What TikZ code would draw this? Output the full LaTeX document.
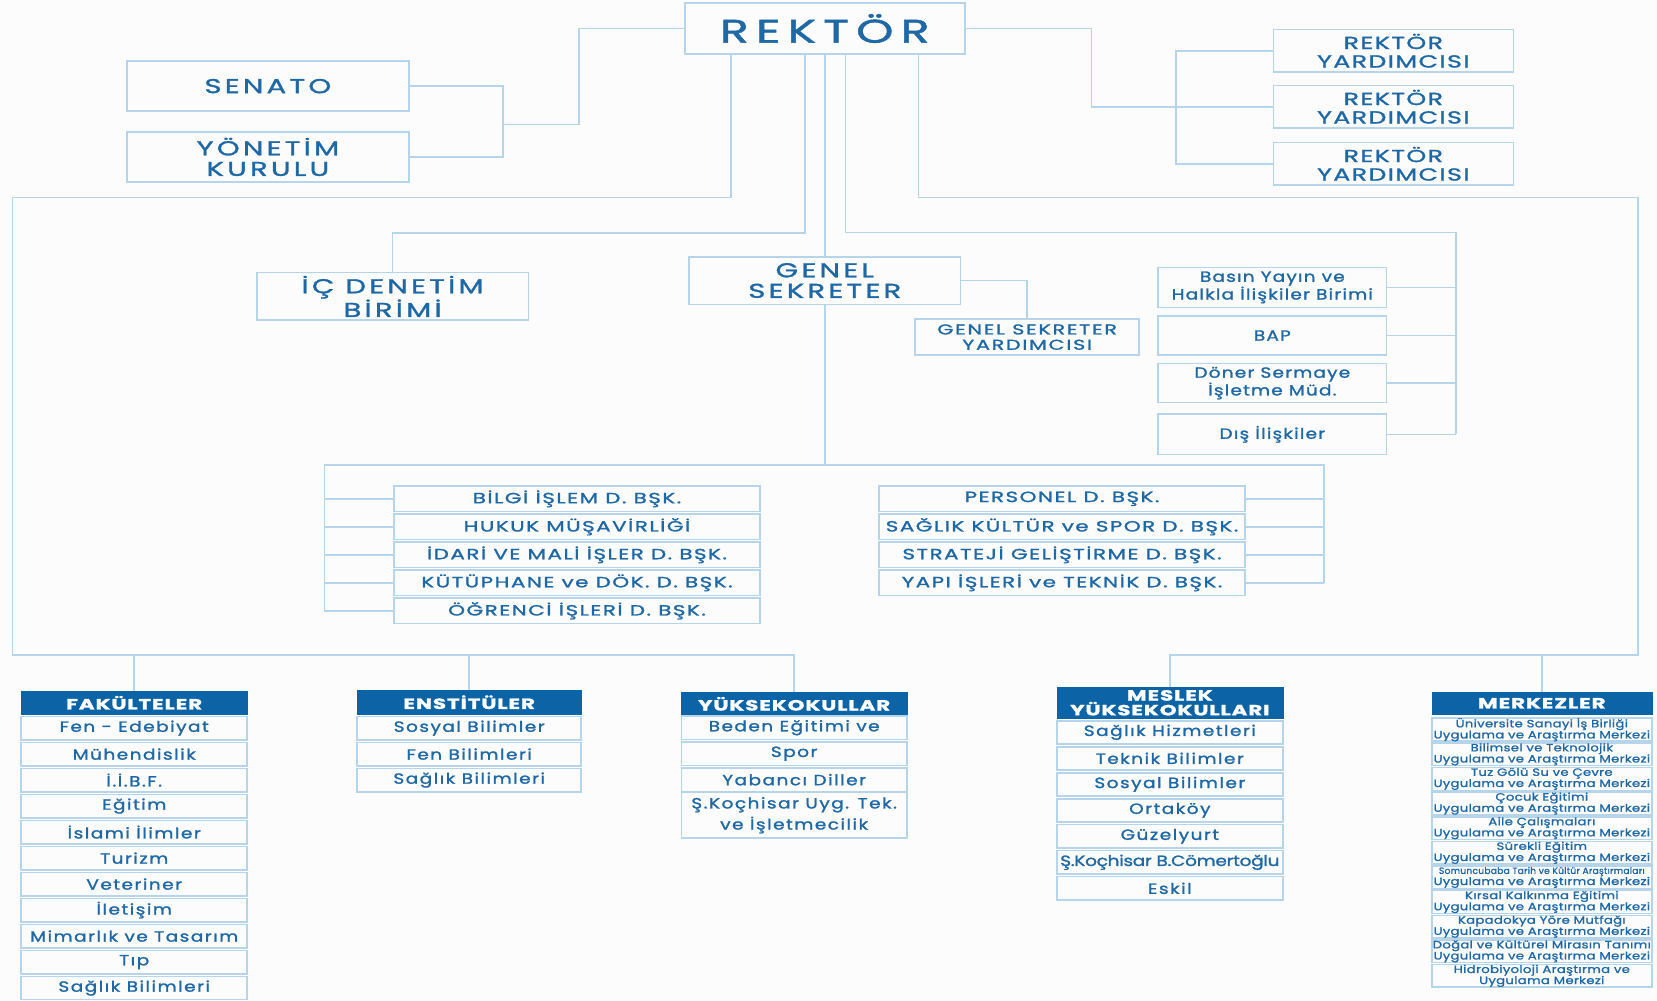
\documentclass[tikz,border=0pt]{standalone}
\usepackage{fontspec}
\setmainfont{Poppins}[FakeStretch=1.25, FakeBold=1.5]
\definecolor{bg}{HTML}{FDFCFC}
\definecolor{lineblue}{HTML}{B7D5EA}
\definecolor{txtblue}{HTML}{1F68A6}
\definecolor{headblue}{HTML}{0C63A6}
\tikzset{
  wh/.style 2 args={minimum width=#1pt, minimum height=#2pt},
  box/.style={draw=lineblue, line width=1.5pt, text=txtblue, align=center, inner sep=0pt},
  head/.style={fill=headblue, draw=headblue, text=white, align=center, inner sep=0pt,
    font=\bfseries\fontsize{14}{14}\selectfont\addfontfeatures{FakeStretch=1.45,LetterSpace=6}},
  conn/.style={draw=lineblue, line width=1.5pt},
  fr/.style={font=\fontsize{31}{34}\selectfont\addfontfeatures{FakeStretch=1.45,LetterSpace=22}},
  f18/.style={font=\fontsize{19}{19.5}\selectfont\addfontfeatures{FakeStretch=1.45,LetterSpace=16}},
  f15/.style={font=\fontsize{16.5}{17.5}\selectfont\addfontfeatures{FakeStretch=1.45,LetterSpace=8}},
  fgsy/.style={font=\fontsize{13.5}{14.5}\selectfont\addfontfeatures{FakeStretch=1.45,LetterSpace=12}},
  fd/.style={font=\fontsize{14}{15}\selectfont\addfontfeatures{FakeStretch=1.45,LetterSpace=10}},
  f13/.style={font=\fontsize{14}{15}\selectfont\addfontfeatures{LetterSpace=8}},
  fi/.style={font=\fontsize{14}{15}\selectfont\addfontfeatures{LetterSpace=10}},
  fi2/.style={font=\fontsize{14}{20}\selectfont\addfontfeatures{LetterSpace=10}},
  fm/.style={font=\fontsize{10}{10.5}\selectfont\addfontfeatures{LetterSpace=3}},
}
\begin{document}
\begin{tikzpicture}[x=1pt,y=-1pt]
\useasboundingbox[fill=bg] (0,0) rectangle (1568,947);

% top level
\node[box, wh={265}{48}, fr] (rektor) at (780.5,27) {REKTÖR};
\node[box, wh={267}{47}, f18] (senato) at (253.5,81.5) {SENATO};
\node[box, wh={267}{47}, f18] (yonetim) at (253.5,148.5) {YÖNETİM\\KURULU};
\foreach \y [count=\i] in {48,101,155}
  \node[box, wh={227}{40}, f15] (ry\i) at (1318.5,\y) {REKTÖR\\YARDIMCISI};

% second level
\node[box, wh={257}{45}, f18] (icd) at (371.5,280.5) {İÇ DENETİM\\BİRİMİ};
\node[box, wh={257}{45}, f18] (gs) at (780.5,265.5) {GENEL\\SEKRETER};
\node[box, wh={212}{34}, fgsy] (gsy) at (972,319) {GENEL SEKRETER\\YARDIMCISI};
\node[box, wh={216}{38}, f13] (basin) at (1204,272) {Basın Yayın ve\\Halkla İlişkiler Birimi};
\node[box, wh={216}{37}, f13] (bap) at (1204,317.5) {BAP};
\node[box, wh={216}{37}, f13] (doner) at (1204,362.5) {Döner Sermaye\\İşletme Müd.};
\node[box, wh={216}{38}, f13] (dis) at (1204,411) {Dış İlişkiler};

% daire baskanliklari
\foreach \t [count=\i] in {BİLGİ İŞLEM D. BŞK., HUKUK MÜŞAVİRLİĞİ, İDARİ VE MALİ İŞLER D. BŞK.,
    KÜTÜPHANE ve DÖK. D. BŞK., ÖĞRENCİ İŞLERİ D. BŞK.}
  \node[box, wh={346}{24}, fd] (l\i) at (546,445.5+26.5*\i) {\t};
\foreach \t [count=\i] in {PERSONEL D. BŞK., SAĞLIK KÜLTÜR ve SPOR D. BŞK.,
    STRATEJİ GELİŞTİRME D. BŞK., YAPI İŞLERİ ve TEKNİK D. BŞK.}
  \node[box, wh={346}{24}, fd] (r\i) at (1005,445.5+26.5*\i) {\t};

% units
\node[head, wh={214}{22}] (fak) at (127,665) {FAKÜLTELER};
\foreach \t [count=\i] in {Fen - Edebiyat, Mühendislik, İ.İ.B.F., Eğitim, İslami İlimler, Turizm,
    Veteriner, İletişim, Mimarlık ve Tasarım, Tıp, Sağlık Bilimleri}
  \node[box, wh={214}{22}, fi] (fak\i) at (127,664.4+24.6*\i) {\t};

\node[head, wh={212}{22}] (ens) at (444,664.5) {ENSTİTÜLER};
\foreach \t [count=\i] in {Sosyal Bilimler, Fen Bilimleri, Sağlık Bilimleri}
  \node[box, wh={212}{22}, fi] (ens\i) at (444,664.4+24.6*\i) {\t};

\node[head, wh={213}{22}] (yuk) at (751.5,666) {YÜKSEKOKULLAR};
\foreach \t [count=\i] in {Beden Eğitimi ve, Spor, Yabancı Diller}
  \node[box, wh={213}{22}, fi] (yuk\i) at (751.5,664+24.6*\i) {\t};
\node[box, wh={213}{43}, fi2] (yuk4) at (751.5,771.5) {Ş.Koçhisar Uyg. Tek.\\ve İşletmecilik};

\node[head, wh={214}{30}] (mes) at (1107,665) {MESLEK\\YÜKSEKOKULLARI};
\foreach \t [count=\i] in {Sağlık Hizmetleri, Teknik Bilimler, Sosyal Bilimler, Ortaköy, Güzelyurt,
    {\addfontfeatures{LetterSpace=-2}Ş.Koçhisar B.Cömertoğlu}, Eskil}
  \node[box, wh={214}{22}, fi] (mes\i) at (1107,668.4+24.6*\i) {\t};

\node[head, wh={208}{21}] (mer) at (1459,665.5) {MERKEZLER};
\foreach \t [count=\i] in {{Üniversite Sanayi İş Birliği\\Uygulama ve Araştırma Merkezi},
    {Bilimsel ve Teknolojik\\Uygulama ve Araştırma Merkezi},
    {Tuz Gölü Su ve Çevre\\Uygulama ve Araştırma Merkezi},
    {Çocuk Eğitimi\\Uygulama ve Araştırma Merkezi},
    {Aile Çalışmaları\\Uygulama ve Araştırma Merkezi},
    {Sürekli Eğitim\\Uygulama ve Araştırma Merkezi},
    {\fontsize{8.6}{9.8}\selectfont\addfontfeatures{FakeStretch=1.0,LetterSpace=3}Somuncubaba Tarih ve Kültür Araştırmaları\\Uygulama ve Araştırma Merkezi},
    {Kırsal Kalkınma Eğitimi\\Uygulama ve Araştırma Merkezi},
    {Kapadokya Yöre Mutfağı\\Uygulama ve Araştırma Merkezi},
    {Doğal ve Kültürel Mirasın Tanımı\\Uygulama ve Araştırma Merkezi},
    {Hidrobiyoloji Araştırma ve\\Uygulama Merkezi}}
  \node[box, wh={208}{21.5}, fm] (mer\i) at (1459,667.2+23.3*\i) {\t};

% connectors
\coordinate (sj) at (476,118);
\draw[conn] (senato.east) -| (sj) |- (yonetim.east);
\draw[conn] (sj) -- ++(72,0) |- (rektor.west);
\coordinate (ryj) at (1113,101);
\draw[conn] (rektor.east) -- ++(119,0) |- (ryj);
\foreach \i in {1,2,3} \draw[conn] (ryj) |- (ry\i.west);

\draw[conn] ([xshift=-88.5pt]rektor.south) |- (12,187) -- (12,620) -| (yuk.north);
\draw[conn] ([xshift=88.5pt]rektor.south) |- (1550,187) -- (1550,620) -| (mes.north);
\foreach \n in {fak,ens,mer} \draw[conn] (\n.north) -- (\n.north |- 0,620);

\draw[conn] ([xshift=-18.5pt]rektor.south) -- ++(0,169) -| (icd.north);
\draw[conn] (rektor.south) -- (gs.north);
\coordinate (rtop) at (1378,220);
\draw[conn] ([xshift=19.5pt]rektor.south) |- (rtop) -- (rtop |- dis.east);
\foreach \n in {basin,bap,doner,dis} \draw[conn] (\n.east) -- (\n.east -| rtop);
\draw[conn] (gs.east) -| (gsy.north);

\coordinate (dl) at (307,440);
\coordinate (dr) at (1253,440);
\draw[conn] (gs.south) -- (gs.south |- dl);
\draw[conn] (dl |- l5.west) -- (dl) -- (dr) -- (dr |- r4.east);
\foreach \i in {1,...,5} \draw[conn] (l\i.west) -- (l\i.west -| dl);
\foreach \i in {1,...,4} \draw[conn] (r\i.east) -- (r\i.east -| dr);
\end{tikzpicture}
\end{document}
